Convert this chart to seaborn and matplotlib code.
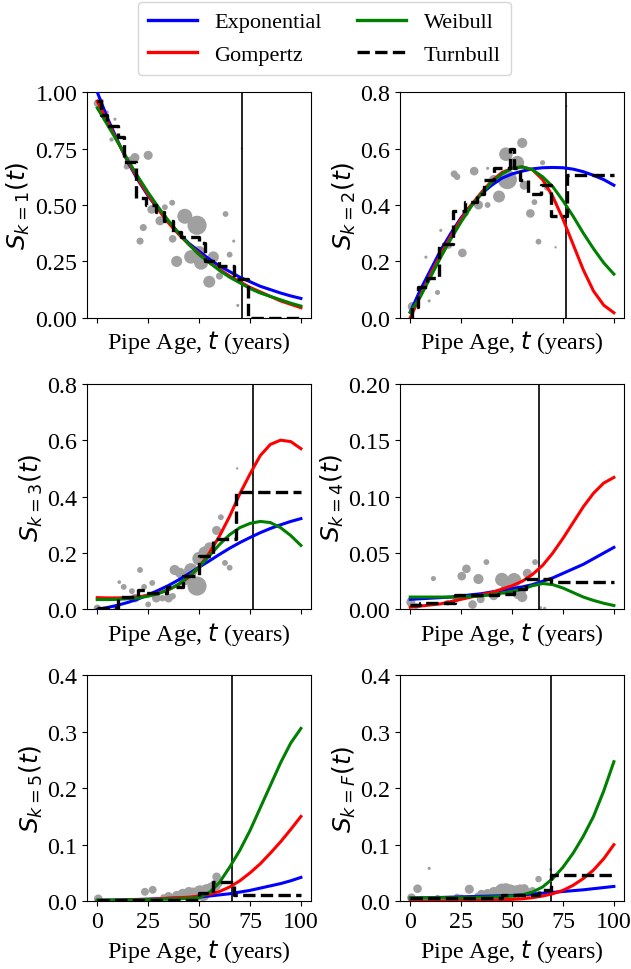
import matplotlib
matplotlib.use("Agg")
import matplotlib.pyplot as plt
import seaborn as sns
import pandas as pd
from matplotlib.lines import Line2D

plt.rcParams['font.family'] = ['Liberation Serif', 'DejaVu Serif']
plt.rcParams['mathtext.fontset'] = 'dejavusans'
plt.rcParams['font.size'] = 17

# ---------------- data ----------------
ages = [0, 5, 10, 15, 20, 25, 30, 35, 40, 45, 50, 55, 60, 65, 70, 75, 80, 85, 90, 95, 100]

exp_k1 = [1.00, 0.885, 0.785, 0.69, 0.61, 0.54, 0.48, 0.425, 0.375, 0.33, 0.295, 0.26, 0.23, 0.205, 0.18, 0.16, 0.14, 0.125, 0.11, 0.097, 0.086]
gom_k1 = [0.96, 0.87, 0.78, 0.695, 0.615, 0.545, 0.48, 0.42, 0.37, 0.325, 0.285, 0.245, 0.215, 0.185, 0.16, 0.135, 0.115, 0.095, 0.075, 0.06, 0.045]
wei_k1 = [0.93, 0.855, 0.78, 0.70, 0.625, 0.555, 0.49, 0.43, 0.375, 0.325, 0.28, 0.245, 0.21, 0.18, 0.155, 0.13, 0.11, 0.095, 0.08, 0.065, 0.052]

exp_k2 = [0.02, 0.10, 0.17, 0.24, 0.30, 0.355, 0.40, 0.44, 0.47, 0.495, 0.51, 0.52, 0.528, 0.532, 0.533, 0.532, 0.527, 0.518, 0.505, 0.49, 0.47]
gom_k2 = [0.00, 0.08, 0.155, 0.225, 0.29, 0.35, 0.40, 0.445, 0.485, 0.515, 0.53, 0.535, 0.525, 0.49, 0.43, 0.35, 0.26, 0.17, 0.095, 0.045, 0.018]
wei_k2 = [0.02, 0.075, 0.145, 0.215, 0.28, 0.34, 0.395, 0.44, 0.48, 0.51, 0.53, 0.535, 0.525, 0.50, 0.465, 0.415, 0.36, 0.30, 0.245, 0.195, 0.155]

exp_k3 = [0.0, 0.007, 0.015, 0.025, 0.037, 0.052, 0.068, 0.085, 0.105, 0.127, 0.15, 0.172, 0.195, 0.217, 0.237, 0.255, 0.272, 0.287, 0.30, 0.312, 0.322]
gom_k3 = [0.042, 0.041, 0.041, 0.042, 0.045, 0.05, 0.058, 0.07, 0.088, 0.115, 0.15, 0.20, 0.26, 0.33, 0.41, 0.48, 0.545, 0.585, 0.60, 0.595, 0.57]
wei_k3 = [0.035, 0.035, 0.036, 0.038, 0.041, 0.047, 0.056, 0.07, 0.09, 0.117, 0.15, 0.19, 0.23, 0.265, 0.29, 0.305, 0.312, 0.308, 0.29, 0.262, 0.227]

exp_k4 = [0.009, 0.0095, 0.010, 0.0105, 0.011, 0.012, 0.013, 0.014, 0.0155, 0.017, 0.0185, 0.020, 0.022, 0.025, 0.028, 0.032, 0.036, 0.040, 0.045, 0.050, 0.055]
gom_k4 = [0.002, 0.003, 0.004, 0.005, 0.007, 0.009, 0.011, 0.013, 0.015, 0.018, 0.021, 0.025, 0.031, 0.039, 0.050, 0.063, 0.077, 0.091, 0.103, 0.112, 0.117]
wei_k4 = [0.011, 0.011, 0.011, 0.011, 0.011, 0.0112, 0.0115, 0.012, 0.013, 0.0145, 0.016, 0.018, 0.021, 0.023, 0.022, 0.019, 0.015, 0.011, 0.008, 0.0055, 0.0035]

exp_k5 = [0.001, 0.0015, 0.002, 0.0025, 0.003, 0.0035, 0.004, 0.005, 0.0055, 0.006, 0.007, 0.009, 0.011, 0.013, 0.016, 0.019, 0.023, 0.027, 0.031, 0.036, 0.042]
gom_k5 = [0.001, 0.001, 0.0015, 0.002, 0.0025, 0.003, 0.004, 0.005, 0.006, 0.007, 0.009, 0.012, 0.017, 0.025, 0.036, 0.050, 0.066, 0.085, 0.105, 0.127, 0.15]
wei_k5 = [0.002, 0.002, 0.002, 0.002, 0.002, 0.0025, 0.003, 0.0035, 0.004, 0.005, 0.006, 0.015, 0.033, 0.060, 0.090, 0.125, 0.165, 0.205, 0.245, 0.280, 0.306]

exp_kF = [0.005, 0.0055, 0.006, 0.0065, 0.007, 0.0075, 0.008, 0.0085, 0.009, 0.0095, 0.010, 0.011, 0.0125, 0.014, 0.0155, 0.017, 0.0185, 0.020, 0.022, 0.024, 0.026]
gom_kF = [0.0, 0.0, 0.0003, 0.0005, 0.0008, 0.001, 0.0012, 0.0015, 0.002, 0.0025, 0.003, 0.004, 0.006, 0.009, 0.013, 0.019, 0.028, 0.040, 0.055, 0.075, 0.10]
wei_kF = [0.006, 0.006, 0.006, 0.006, 0.006, 0.006, 0.0065, 0.007, 0.0075, 0.008, 0.009, 0.011, 0.016, 0.025, 0.040, 0.060, 0.085, 0.115, 0.150, 0.195, 0.247]

# Turnbull step estimates
tb_t_k1 = [0, 2, 5, 10, 13, 19, 24, 29, 33, 37, 41, 50, 53, 60, 67, 74, 100]
tb_s_k1 = [0.96, 0.90, 0.85, 0.80, 0.69, 0.53, 0.50, 0.47, 0.43, 0.38, 0.36, 0.33, 0.25, 0.23, 0.17, 0.00, 0.00]
tb_t_k2 = [0, 1, 4, 8, 14, 21, 27, 33, 36, 41, 49, 51, 54, 58, 64, 69, 77, 100]
tb_s_k2 = [0.00, 0.04, 0.11, 0.14, 0.26, 0.38, 0.41, 0.44, 0.49, 0.53, 0.60, 0.53, 0.49, 0.44, 0.47, 0.36, 0.505, 0.505]
tb_t_k3 = [0, 10, 20, 24, 34, 42, 50, 57, 68, 100]
tb_s_k3 = [0.005, 0.045, 0.07, 0.06, 0.08, 0.12, 0.19, 0.25, 0.415, 0.415]
tb_t_k4 = [0, 5, 22, 43, 51, 57, 69, 100]
tb_s_k4 = [0.004, 0.006, 0.013, 0.014, 0.018, 0.027, 0.0245, 0.0245]
tb_t_k5 = [0, 50, 57, 67, 100]
tb_s_k5 = [0.002, 0.015, 0.033, 0.010, 0.010]
tb_t_kF = [0, 30, 45, 63, 69, 100]
tb_s_kF = [0.005, 0.006, 0.010, 0.020, 0.046, 0.046]

# observed proportions (age, proportion, number of pipes)
obs_age_k1 = [0, 1, 2, 4.6, 7, 8.7, 14.4, 16, 18.5, 21, 22.6, 25, 26.7, 30.8, 33.2, 36.8, 37, 39, 43, 46, 49, 50, 51, 55, 57, 60, 63, 65, 67, 69, 71]
obs_p_k1 = [0.95, 0.93, 0.96, 0.91, 0.79, 0.88, 0.67, 0.70, 0.71, 0.34, 0.40, 0.72, 0.48, 0.43, 0.49, 0.51, 0.35, 0.25, 0.45, 0.27, 0.41, 0.29, 0.245, 0.16, 0.27, 0.185, 0.46, 0.28, 0.34, 0.055, 0.75]
obs_n_k1 = [12, 8, 6, 4, 4, 2, 8, 10, 20, 12, 12, 20, 18, 20, 8, 8, 14, 30, 55, 45, 90, 40, 50, 35, 30, 12, 8, 8, 2, 2, 1]

obs_age_k2 = [1, 7.7, 9.3, 13.4, 15, 19, 21.6, 23, 25.6, 27.3, 31.4, 33.5, 38, 38, 41, 43.6, 47, 47.7, 52.6, 55, 56, 59, 61, 63, 65, 67, 71.4, 76.6]
obs_p_k2 = [0.04, 0.215, 0.06, 0.09, 0.31, 0.255, 0.51, 0.50, 0.23, 0.37, 0.52, 0.40, 0.40, 0.53, 0.49, 0.43, 0.58, 0.49, 0.55, 0.62, 0.47, 0.37, 0.41, 0.27, 0.55, 0.46, 0.25, 0.75]
obs_n_k2 = [20, 2, 2, 6, 2, 8, 12, 10, 18, 8, 18, 20, 8, 2, 20, 35, 45, 90, 45, 25, 20, 18, 8, 8, 6, 6, 1, 1]

obs_age_k3 = [0, 9.5, 10.8, 13, 17, 18.5, 21, 23, 25, 27, 29, 32, 35, 37, 38, 40.6, 43, 46, 49, 50, 53, 55, 58.6, 60.7, 62.7, 65, 68.7]
obs_p_k3 = [0.005, 0.005, 0.097, 0.08, 0.065, 0.04, 0.14, 0.08, 0.018, 0.094, 0.04, 0.04, 0.04, 0.047, 0.14, 0.13, 0.11, 0.14, 0.083, 0.18, 0.20, 0.22, 0.28, 0.327, 0.165, 0.148, 0.50]
obs_n_k3 = [12, 10, 3, 8, 8, 18, 8, 8, 8, 8, 18, 10, 18, 10, 25, 25, 45, 45, 90, 45, 45, 25, 20, 8, 8, 8, 1]

obs_age_k4 = [0.3, 3, 11.4, 18.3, 22.4, 25.3, 27.6, 30.6, 33.5, 34.6, 37.4, 41, 45, 47.7, 51, 53.4, 55, 57.5, 61.3, 64, 66]
obs_p_k4 = [0.0065, 0.003, 0.0274, 0.006, 0.009, 0.0295, 0.036, 0.0044, 0.027, 0.009, 0.042, 0.012, 0.0265, 0.018, 0.026, 0.015, 0.011, 0.032, 0.042, 0.0015, 0.001]
obs_n_k4 = [20, 8, 6, 8, 10, 18, 18, 18, 25, 15, 8, 18, 45, 45, 50, 45, 25, 20, 8, 2, 2]

obs_age_k5 = [0.5, 23.4, 27.2, 32.4, 35, 36, 39, 42, 44, 45, 47, 48, 50.4, 52, 53.7, 55, 56, 58, 58.6, 60]
obs_p_k5 = [0.004, 0.0165, 0.020, 0.007, 0.008, 0.006, 0.010, 0.012, 0.009, 0.016, 0.015, 0.010, 0.016, 0.012, 0.018, 0.020, 0.024, 0.028, 0.043, 0.030]
obs_n_k5 = [18, 15, 15, 8, 20, 8, 20, 30, 20, 25, 25, 40, 45, 45, 45, 35, 25, 30, 18, 8]

obs_age_kF = [0.6, 3.6, 9.3, 13.4, 23, 25, 29, 33, 35, 38, 41, 43, 45, 47, 49, 52, 54, 56, 57.5, 60, 63, 69]
obs_p_kF = [0.006, 0.022, 0.058, 0.006, 0.008, 0.006, 0.021, 0.009, 0.012, 0.0135, 0.016, 0.014, 0.019, 0.022, 0.0176, 0.016, 0.0206, 0.022, 0.015, 0.018, 0.039, 0.056]
obs_n_kF = [18, 18, 2, 8, 8, 10, 20, 10, 20, 20, 25, 40, 45, 30, 45, 45, 25, 20, 20, 15, 10, 2]

vline_age = [71.2, 76.6, 76.6, 63.2, 66.0, 69.0]
state_labels = ['1', '2', '3', '4', '5', 'F']
ylims = [1.0, 0.8, 0.8, 0.2, 0.4, 0.4]
yticks = [[0, 0.25, 0.5, 0.75, 1.0], [0, 0.2, 0.4, 0.6, 0.8], [0, 0.2, 0.4, 0.6, 0.8],
          [0, 0.05, 0.10, 0.15, 0.20], [0, 0.1, 0.2, 0.3, 0.4], [0, 0.1, 0.2, 0.3, 0.4]]
ytick_fmt = ['{:.2f}', '{:.1f}', '{:.1f}', '{:.2f}', '{:.1f}', '{:.1f}']
xticks = [0, 25, 50, 75, 100]

curves = [(exp_k1, gom_k1, wei_k1), (exp_k2, gom_k2, wei_k2), (exp_k3, gom_k3, wei_k3),
          (exp_k4, gom_k4, wei_k4), (exp_k5, gom_k5, wei_k5), (exp_kF, gom_kF, wei_kF)]
turnbull = [(tb_t_k1, tb_s_k1), (tb_t_k2, tb_s_k2), (tb_t_k3, tb_s_k3),
            (tb_t_k4, tb_s_k4), (tb_t_k5, tb_s_k5), (tb_t_kF, tb_s_kF)]
observed = [(obs_age_k1, obs_p_k1, obs_n_k1), (obs_age_k2, obs_p_k2, obs_n_k2),
            (obs_age_k3, obs_p_k3, obs_n_k3), (obs_age_k4, obs_p_k4, obs_n_k4),
            (obs_age_k5, obs_p_k5, obs_n_k5), (obs_age_kF, obs_p_kF, obs_n_kF)]

model_names = ['Exponential', 'Gompertz', 'Weibull']
model_colors = {'Exponential': 'blue', 'Gompertz': 'red', 'Weibull': 'green'}

# ---------------- figure ----------------
fig = plt.figure(figsize=(6.31, 9.70), dpi=100)
axes = fig.subplots(3, 2)
fig.subplots_adjust(left=0.138, right=0.989, top=0.904, bottom=0.070, wspace=0.397, hspace=0.292)

for i, ax in enumerate(axes.flat):
    a, p, n = observed[i]
    obs_df = pd.DataFrame({'age': a, 'p': p, 'n': n})
    sns.scatterplot(data=obs_df, x='age', y='p', size='n', sizes=(3, 190), size_norm=(1, 90),
                    color='#a0a0a0', edgecolor='none', linewidth=0, legend=False, ax=ax, zorder=1)

    rows = []
    for name, vals in zip(model_names, curves[i]):
        rows.append(pd.DataFrame({'age': ages, 'S': vals, 'model': name}))
    cdf = pd.concat(rows, ignore_index=True)
    sns.lineplot(data=cdf, x='age', y='S', hue='model', palette=model_colors,
                 hue_order=model_names, linewidth=2.2, legend=False, ax=ax, zorder=3)

    tt, ss = turnbull[i]
    ax.step(tt, ss, where='post', color='black', linestyle='--', linewidth=2.4, zorder=4)

    ax.axvline(vline_age[i], color='black', linewidth=1.2, zorder=2)

    ax.set_ylim(0, ylims[i])
    ax.set_yticks(yticks[i])
    ax.set_yticklabels([ytick_fmt[i].format(v) for v in yticks[i]])
    ax.set_xticks(xticks)
    ax.set_xlim(-5, 105)
    ax.set_ylabel(r'$S_{k=' + state_labels[i] + r'}(t)$', fontsize=18, labelpad=2)
    ax.set_xlabel('Pipe Age, $t$ (years)', fontsize=17.3)
    ax.tick_params(labelsize=17.3)
    ax.tick_params(axis='x', labelbottom=(i >= 4))

handles = [Line2D([], [], color='blue', lw=2.4), Line2D([], [], color='red', lw=2.4),
           Line2D([], [], color='green', lw=2.4), Line2D([], [], color='black', lw=2.4, ls='--')]
labels = ['Exponential', 'Gompertz', 'Weibull', 'Turnbull']
fig.legend(handles, labels, loc='upper center', bbox_to_anchor=(0.514, 0.997), ncol=2,
           fontsize=16, handlelength=2.2, columnspacing=1.6, borderpad=0.45, labelspacing=0.55,
           borderaxespad=0.0)

fig.savefig('out.png', dpi=100)
